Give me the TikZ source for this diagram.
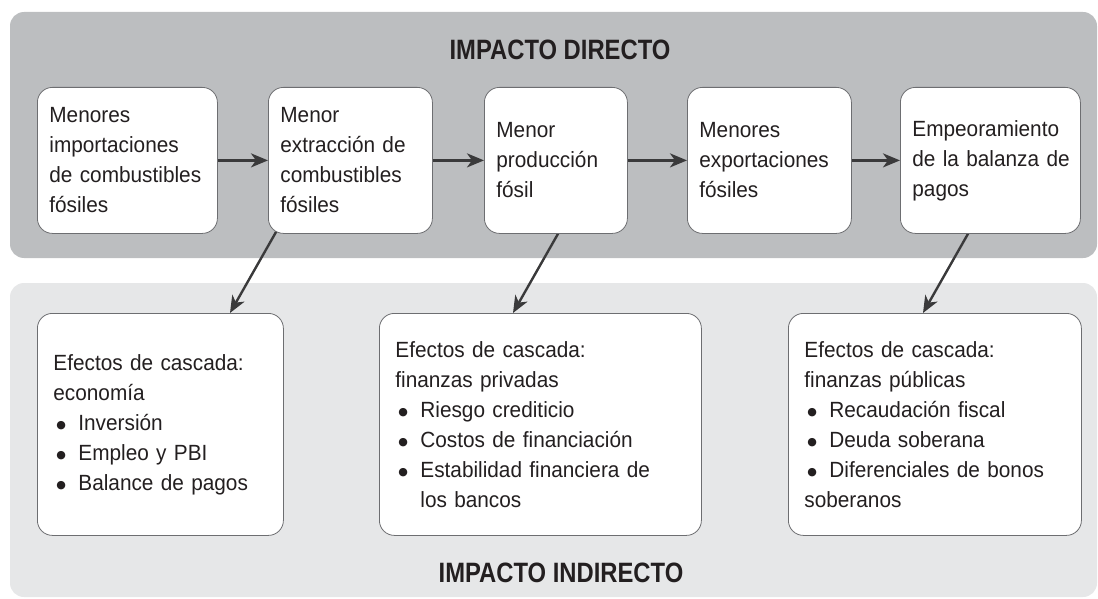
\documentclass[tikz,border=0pt]{standalone}
\usepackage{fontspec}
\setmainfont{Liberation Sans}[FakeStretch=0.945]
\newfontfamily\titlefont{Liberation Sans}[FakeStretch=0.85]
\newfontfamily\dotfont{DejaVu Sans}
\usetikzlibrary{arrows.meta}
\definecolor{darkpanel}{HTML}{BCBEC0}
\definecolor{lightpanel}{HTML}{E6E7E8}
\definecolor{boxline}{HTML}{6D6E71}
\definecolor{ink}{HTML}{231F20}
\definecolor{arrowink}{HTML}{3A3A3B}
\pgfdeclarelayer{bg}\pgfdeclarelayer{mid}\pgfsetlayers{bg,mid,main}
\newcommand\itemdot{\makebox[25pt][l]{\hspace{3pt}{\dotfont\fontsize{11}{11}\selectfont\raisebox{1.5pt}{●}}}}
\tikzset{
 card/.style={draw=boxline, line width=0.8pt, fill=white, rounded corners=15pt, anchor=north west, align=left, inner ysep=0pt, text=ink, font=\fontsize{22}{30}\selectfont},
 topcard/.style={card, inner xsep=12pt, minimum height=146pt},
 lowcard/.style={card, inner xsep=16pt, minimum height=222pt},
 flow/.style={draw=arrowink, line width=2.4pt, -{Stealth[length=17pt,width=14pt,inset=5pt]}},
 paneltitle/.style={text=ink, font=\titlefont\bfseries\fontsize{28}{32}\selectfont},
 panel/.style={rounded corners=14pt},
}
\begin{document}
\begin{tikzpicture}[x=1pt,y=-1pt]
\useasboundingbox (0,0) rectangle (1098,599);
\begin{pgfonlayer}{bg}
\fill[panel, darkpanel] (10,12) rectangle (1097,258);
\fill[panel, lightpanel] (10,283) rectangle (1097,597);
\end{pgfonlayer}
\node[paneltitle] (dtitle) at (560,50) {IMPACTO DIRECTO};
\node[paneltitle] (ititle) at (561,573) {IMPACTO INDIRECTO};
% top row
\node[topcard, text width=156pt] (b1) at (37,87) {Menores\\importaciones\\de combustibles\\fósiles};
\node[topcard, text width=140pt] (b2) at (268,87) {Menor\\extracción de\\combustibles\\fósiles};
\node[topcard, text width=119pt] (b3) at (484,87) {Menor\\producción\\fósil};
\node[topcard, text width=140pt] (b4) at (687,87) {Menores\\exportaciones\\fósiles};
\node[topcard, text width=156pt] (b5) at (900,87) {Empeoramiento\\\mbox{de la balanza de}\\pagos};
% bottom row
\node[lowcard, text width=214pt] (cA) at (37,313) {Efectos de cascada:\\economía\\\itemdot Inversión\\\itemdot Empleo y PBI\\\itemdot Balance de pagos};
\node[lowcard, text width=290pt] (cB) at (379,313) {Efectos de cascada:\\finanzas privadas\\\itemdot Riesgo crediticio\\\itemdot Costos de financiación\\\itemdot Estabilidad financiera de\\\hspace*{25pt}los bancos};
\node[lowcard, text width=261pt] (cC) at (788,313) {Efectos de cascada:\\finanzas públicas\\\itemdot Recaudación fiscal\\\itemdot Deuda soberana\\\itemdot Diferenciales de bonos\\soberanos};
\begin{pgfonlayer}{mid}
\draw[flow] (b1.east) -- (b2.west);
\draw[flow] (b2.east) -- (b3.west);
\draw[flow] (b3.east) -- (b4.west);
\draw[flow] (b4.east) -- (b5.west);
\draw[flow] ([xshift=10.4pt,yshift=6pt]b2.south west) -- ([xshift=193pt]cA.north west);
\draw[flow] ([xshift=77.4pt,yshift=6pt]b3.south west) -- ([xshift=134pt]cB.north west);
\draw[flow] ([xshift=71.4pt,yshift=6pt]b5.south west) -- ([xshift=135pt]cC.north west);
\end{pgfonlayer}
\end{tikzpicture}
\end{document}
